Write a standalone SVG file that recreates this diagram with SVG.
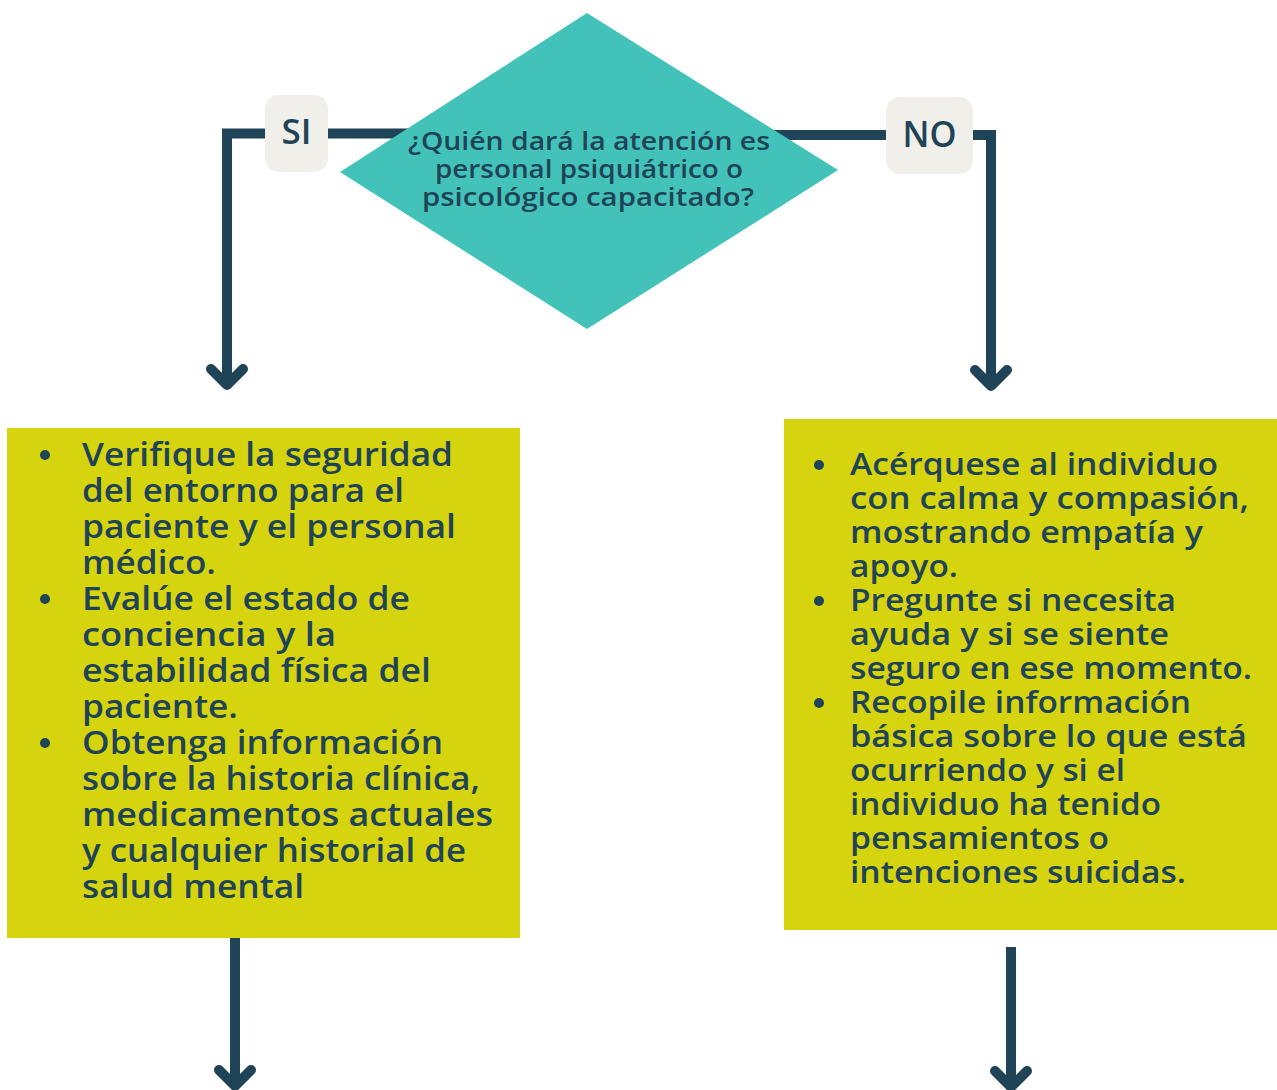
<svg xmlns="http://www.w3.org/2000/svg" width="1277" height="1090" viewBox="0 0 1277 1090">
  <style>
    .line { fill: none; stroke: #1f4457; stroke-width: 10; }
    .head { fill: none; stroke: #1f4457; stroke-width: 10; stroke-linecap: round; stroke-linejoin: round; }
    .badge { fill: #f1efea; }
    .badge-text { font-family: "Open Sans", "DejaVu Sans", sans-serif; font-weight: 600; fill: #1f4457; text-anchor: middle; }
    .box { fill: #d6d40e; }
    .body { font-family: "Open Sans", "DejaVu Sans", sans-serif; font-weight: 600; fill: #1f4457; }
    .l { font-size: 32px; }
    .r { font-size: 30px; }
    .q { font-family: "Open Sans", "DejaVu Sans", sans-serif; font-weight: 600; font-size: 25px; fill: #1f4457; text-anchor: middle; }
    .dot { fill: #1f4457; }
  </style>
  <rect width="1277" height="1090" fill="#ffffff"/>

  <!-- connectors -->
  <g id="connectors">
    <path class="line" d="M 420 133.5 H 227 V 385"/>
    <path class="head" d="M 211 369 L 227 385 L 243 369"/>
    <path class="line" d="M 760 135 H 991 V 386"/>
    <path class="head" d="M 975 370 L 991 386 L 1007 370"/>
    <path class="line" d="M 235 936 V 1085"/>
    <path class="head" d="M 219 1070 L 235 1086 L 251 1070"/>
    <path class="line" d="M 1011 947 V 1085"/>
    <path class="head" d="M 995 1071 L 1011 1087 L 1027 1071"/>
  </g>

  <!-- decision -->
  <g id="decision">
    <polygon points="587,13 838,170 587,329 340,172" fill="#43c2b9"/>
    <text class="q" x="589" y="150" textLength="362" lengthAdjust="spacingAndGlyphs">¿Quién dará la atención es</text>
    <text class="q" x="589" y="178" textLength="308" lengthAdjust="spacingAndGlyphs">personal psiquiátrico o</text>
    <text class="q" x="588" y="206" textLength="332" lengthAdjust="spacingAndGlyphs">psicológico capacitado?</text>
  </g>

  <!-- branch labels -->
  <g id="label-si">
    <rect class="badge" x="265" y="95" width="63" height="77" rx="14"/>
    <text class="badge-text" x="296.5" y="144" font-size="35">SI</text>
  </g>
  <g id="label-no">
    <rect class="badge" x="886" y="97" width="87" height="77" rx="14"/>
    <text class="badge-text" x="929.5" y="146.5" font-size="36" textLength="54" lengthAdjust="spacingAndGlyphs">NO</text>
  </g>

  <!-- left action box -->
  <g id="box-si">
    <rect class="box" x="7" y="428" width="513" height="510"/>
    <circle class="dot" cx="45" cy="455" r="5"/>
    <circle class="dot" cx="45" cy="599" r="5"/>
    <circle class="dot" cx="45" cy="743" r="5"/>
    <text class="body l" x="82" y="466" textLength="371" lengthAdjust="spacingAndGlyphs">Verifique la seguridad</text>
    <text class="body l" x="82" y="502" textLength="322" lengthAdjust="spacingAndGlyphs">del entorno para el</text>
    <text class="body l" x="82" y="538" textLength="374" lengthAdjust="spacingAndGlyphs">paciente y el personal</text>
    <text class="body l" x="82" y="574" textLength="134" lengthAdjust="spacingAndGlyphs">médico.</text>
    <text class="body l" x="82" y="610" textLength="328" lengthAdjust="spacingAndGlyphs">Evalúe el estado de</text>
    <text class="body l" x="82" y="646" textLength="254" lengthAdjust="spacingAndGlyphs">conciencia y la</text>
    <text class="body l" x="82" y="682" textLength="349" lengthAdjust="spacingAndGlyphs">estabilidad física del</text>
    <text class="body l" x="82" y="718" textLength="156" lengthAdjust="spacingAndGlyphs">paciente.</text>
    <text class="body l" x="82" y="754" textLength="361" lengthAdjust="spacingAndGlyphs">Obtenga información</text>
    <text class="body l" x="82" y="790" textLength="398" lengthAdjust="spacingAndGlyphs">sobre la historia clínica,</text>
    <text class="body l" x="82" y="826" textLength="411" lengthAdjust="spacingAndGlyphs">medicamentos actuales</text>
    <text class="body l" x="82" y="862" textLength="384" lengthAdjust="spacingAndGlyphs">y cualquier historial de</text>
    <text class="body l" x="82" y="898" textLength="222" lengthAdjust="spacingAndGlyphs">salud mental</text>
  </g>

  <!-- right action box -->
  <g id="box-no">
    <rect class="box" x="784" y="419" width="493" height="511"/>
    <circle class="dot" cx="819" cy="465" r="5"/>
    <circle class="dot" cx="819" cy="601" r="5"/>
    <circle class="dot" cx="819" cy="703" r="5"/>
    <text class="body r" x="850" y="475" textLength="368" lengthAdjust="spacingAndGlyphs">Acérquese al individuo</text>
    <text class="body r" x="850" y="509" textLength="399" lengthAdjust="spacingAndGlyphs">con calma y compasión,</text>
    <text class="body r" x="850" y="543" textLength="353" lengthAdjust="spacingAndGlyphs">mostrando empatía y</text>
    <text class="body r" x="850" y="577" textLength="108" lengthAdjust="spacingAndGlyphs">apoyo.</text>
    <text class="body r" x="850" y="611" textLength="326" lengthAdjust="spacingAndGlyphs">Pregunte si necesita</text>
    <text class="body r" x="850" y="645" textLength="319" lengthAdjust="spacingAndGlyphs">ayuda y si se siente</text>
    <text class="body r" x="850" y="679" textLength="402" lengthAdjust="spacingAndGlyphs">seguro en ese momento.</text>
    <text class="body r" x="850" y="713" textLength="341" lengthAdjust="spacingAndGlyphs">Recopile información</text>
    <text class="body r" x="850" y="747" textLength="397" lengthAdjust="spacingAndGlyphs">básica sobre lo que está</text>
    <text class="body r" x="850" y="781" textLength="275" lengthAdjust="spacingAndGlyphs">ocurriendo y si el</text>
    <text class="body r" x="850" y="815" textLength="311" lengthAdjust="spacingAndGlyphs">individuo ha tenido</text>
    <text class="body r" x="850" y="849" textLength="259" lengthAdjust="spacingAndGlyphs">pensamientos o</text>
    <text class="body r" x="850" y="883" textLength="336" lengthAdjust="spacingAndGlyphs">intenciones suicidas.</text>
  </g>
</svg>
